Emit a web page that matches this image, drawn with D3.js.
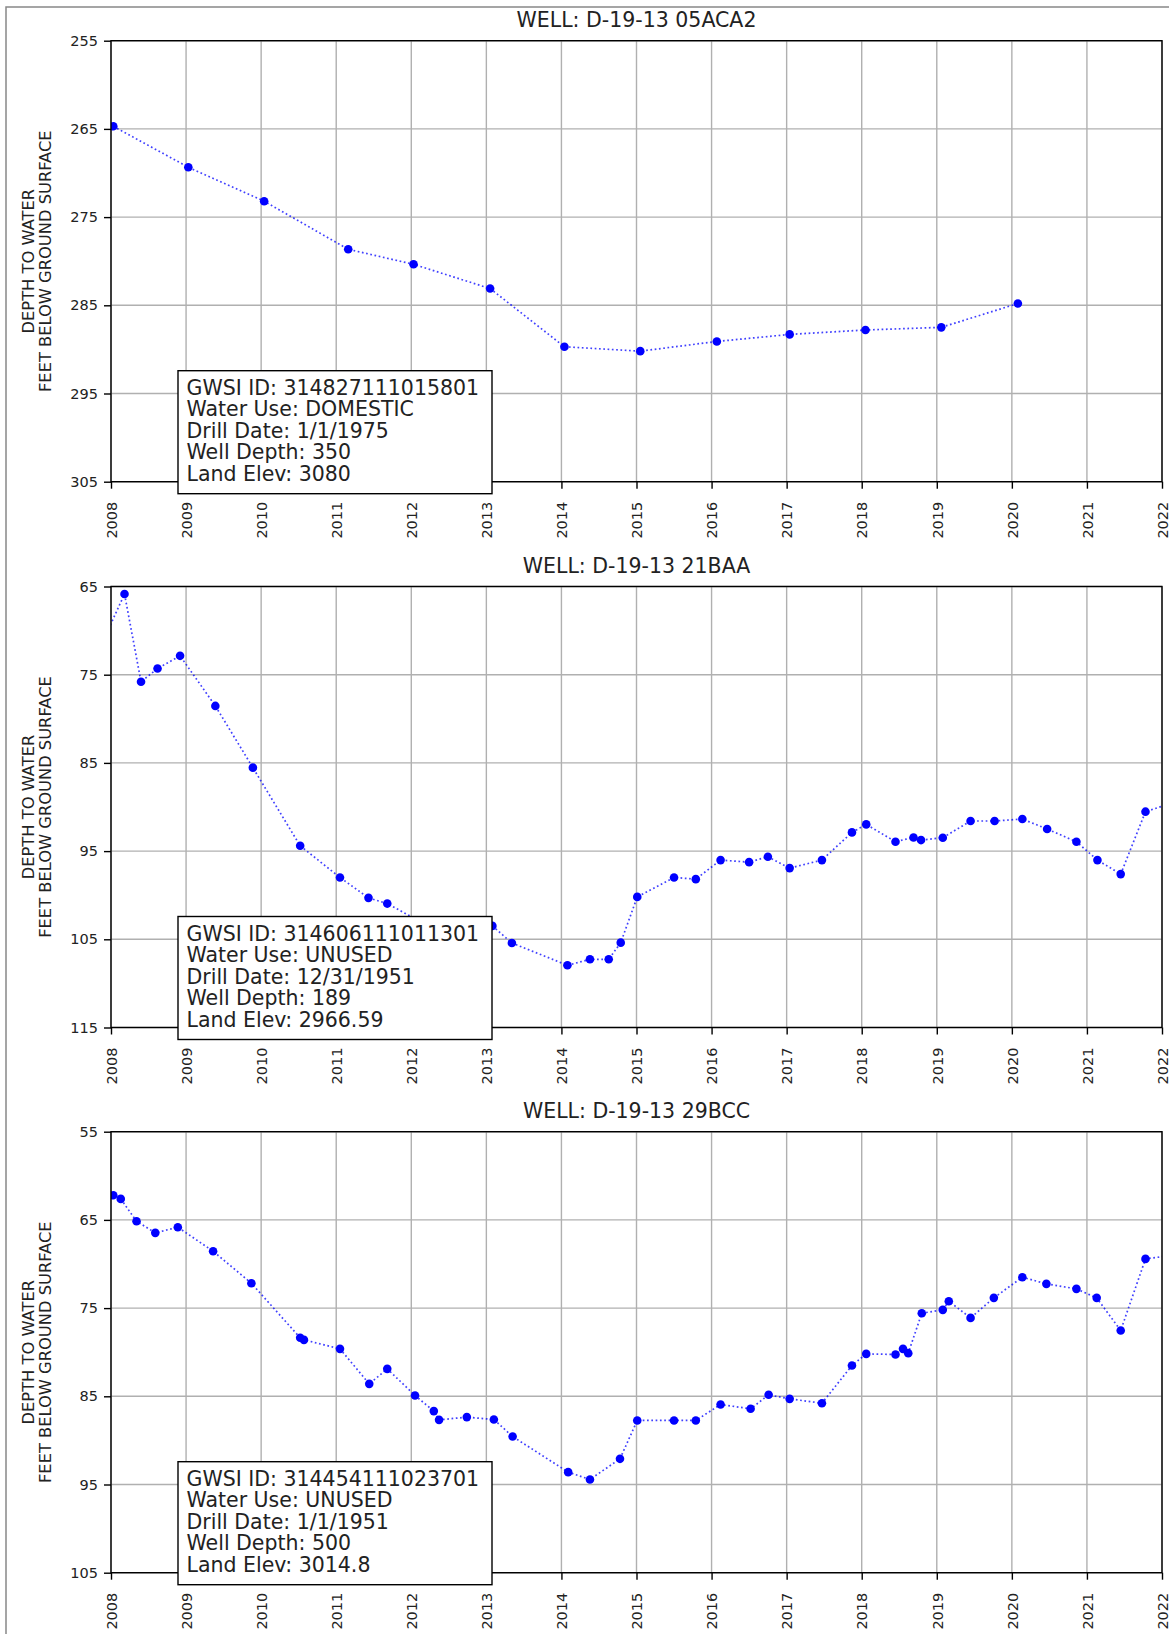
<!DOCTYPE html>
<html><head><meta charset="utf-8">
<script src="https://cdn.jsdelivr.net/npm/d3@7"></script>
<style>
body{margin:0;background:#fff;}
text{font-family:"DejaVu Sans",sans-serif;}
</style>
</head><body>
<svg id="chart" width="1169" height="1634"></svg>
<script>
// ---------- data ----------
const titles = ["WELL: D-19-13 05ACA2", "WELL: D-19-13 21BAA", "WELL: D-19-13 29BCC"];
const yearTicks = [2008,2009,2010,2011,2012,2013,2014,2015,2016,2017,2018,2019,2020,2021,2022];

const yTicks1 = [255,265,275,285,295,305];
const yTicks2 = [65,75,85,95,105,115];
const yTicks3 = [55,65,75,85,95,105];

const years1 = [2008.03,2009.03,2010.04,2011.16,2012.03,2013.05,2014.04,2015.05,2016.07,2017.04,2018.05,2019.06,2020.08];
const depth1 = [264.7,269.35,273.2,278.65,280.35,283.1,289.7,290.2,289.1,288.3,287.8,287.5,284.8];

const years2 = [2007.92,2008.18,2008.40,2008.62,2008.92,2009.39,2009.89,2010.52,2011.05,2011.43,2011.68,2012.1,2012.6,2013.08,2013.34,2014.08,2014.38,2014.63,2014.79,2015.01,2015.50,2015.79,2016.12,2016.50,2016.75,2017.04,2017.47,2017.87,2018.06,2018.45,2018.69,2018.79,2019.08,2019.45,2019.77,2020.14,2020.47,2020.86,2021.14,2021.45,2021.78,2022.15];
const depth2 = [70.7,65.85,75.8,74.3,72.86,78.54,85.54,94.4,97.99,100.3,100.95,102.9,103.2,103.48,105.42,107.95,107.27,107.27,105.38,100.19,97.99,98.18,96.02,96.25,95.64,96.93,96.02,92.88,91.97,93.94,93.45,93.75,93.48,91.59,91.59,91.36,92.5,93.94,96.02,97.61,90.53,89.5];

const years3 = [2008.03,2008.13,2008.34,2008.59,2008.89,2009.36,2009.87,2010.52,2010.57,2011.05,2011.44,2011.68,2012.05,2012.30,2012.37,2012.74,2013.10,2013.35,2014.09,2014.38,2014.78,2015.01,2015.50,2015.79,2016.12,2016.52,2016.76,2017.04,2017.47,2017.87,2018.06,2018.45,2018.55,2018.62,2018.80,2019.08,2019.16,2019.45,2019.76,2020.14,2020.46,2020.86,2021.13,2021.45,2021.78,2022.15];
const depth3 = [62.2,62.62,65.15,66.47,65.83,68.55,72.18,78.37,78.6,79.62,83.59,81.89,84.91,86.68,87.67,87.36,87.63,89.56,93.6,94.43,92.09,87.74,87.74,87.74,85.93,86.42,84.83,85.29,85.78,81.51,80.19,80.26,79.62,80.11,75.58,75.2,74.22,76.11,73.84,71.5,72.25,72.82,73.84,77.54,69.42,69.0];

const info1 = ["GWSI ID: 314827111015801","Water Use: DOMESTIC","Drill Date: 1/1/1975","Well Depth: 350","Land Elev: 3080"];
const info2 = ["GWSI ID: 314606111011301","Water Use: UNUSED","Drill Date: 12/31/1951","Well Depth: 189","Land Elev: 2966.59"];
const info3 = ["GWSI ID: 314454111023701","Water Use: UNUSED","Drill Date: 1/1/1951","Well Depth: 500","Land Elev: 3014.8"];

const yLabelLines = ["DEPTH TO WATER", "FEET BELOW GROUND SURFACE"];

// ---------- layout ----------
const svg = d3.select("#chart");
const L = 111, R = 1162, H = 441;
const tops = [40.7, 586.5, 1131.7];

svg.append("rect").attr("x",6).attr("y",7).attr("width",1300).attr("height",1800)
  .attr("fill","none").attr("stroke","#888").attr("stroke-width",1.5);

const panels = [
  {title:titles[0], yt:yTicks1, xs:years1, ys:depth1, info:info1},
  {title:titles[1], yt:yTicks2, xs:years2, ys:depth2, info:info2},
  {title:titles[2], yt:yTicks3, xs:years3, ys:depth3, info:info3}
];

panels.forEach((p, i) => {
  const top = tops[i], bot = top + H;
  const x = d3.scaleLinear().domain([yearTicks[0], yearTicks[yearTicks.length-1]]).range([L, R]);
  const y = d3.scaleLinear().domain([p.yt[0], p.yt[p.yt.length-1]]).range([top, bot]);
  const g = svg.append("g");

  // grid
  g.append("g").selectAll("line").data(yearTicks).join("line")
    .attr("x1", d=>x(d)).attr("x2", d=>x(d)).attr("y1", top).attr("y2", bot)
    .attr("stroke","#b0b0b0").attr("stroke-width",1.4);
  g.append("g").selectAll("line").data(p.yt).join("line")
    .attr("x1", L).attr("x2", R).attr("y1", d=>y(d)).attr("y2", d=>y(d))
    .attr("stroke","#b0b0b0").attr("stroke-width",1.4);

  // clip
  const cid = "clip"+i;
  svg.append("clipPath").attr("id",cid).append("rect")
    .attr("x",L).attr("y",top).attr("width",R-L).attr("height",H);

  const pts = p.xs.map((d,k)=>[d, p.ys[k]]);
  const dg = g.append("g").attr("clip-path","url(#"+cid+")");
  dg.append("path").datum(pts)
    .attr("d", d3.line().x(d=>x(d[0])).y(d=>y(d[1])))
    .attr("fill","none").attr("stroke","#0000ff").attr("stroke-width",1.7)
    .attr("stroke-dasharray","1.7,2.6").attr("opacity",0.75);
  dg.selectAll("circle").data(pts).join("circle")
    .attr("cx", d=>x(d[0])).attr("cy", d=>y(d[1])).attr("r",4.3).attr("fill","#0000ff");

  // spines
  g.append("rect").attr("x",L).attr("y",top).attr("width",R-L).attr("height",H)
    .attr("fill","none").attr("stroke","#000").attr("stroke-width",1.4);

  // y axis
  const ya = g.append("g").attr("transform",`translate(${L},0)`)
    .call(d3.axisLeft(y).tickValues(p.yt).tickSize(7).tickPadding(6).tickFormat(d3.format("d")));
  ya.select(".domain").remove();
  ya.selectAll(".tick line").attr("stroke","#000").attr("stroke-width",1.4);
  ya.selectAll(".tick text").attr("font-size",14.5).attr("fill","#222")
    .attr("font-family","DejaVu Sans");

  // x axis
  const xa = g.append("g").attr("transform",`translate(0,${bot})`)
    .call(d3.axisBottom(x).tickValues(yearTicks).tickSize(7).tickFormat(d3.format("d")));
  xa.select(".domain").remove();
  xa.selectAll(".tick line").attr("stroke","#000").attr("stroke-width",1.4);
  xa.selectAll(".tick text").attr("font-size",14.5).attr("fill","#222")
    .attr("font-family","DejaVu Sans")
    .attr("transform","rotate(-90)").attr("x",-20).attr("y",0).attr("dy","0.36em")
    .attr("text-anchor","end");

  // title
  g.append("text").attr("x",(L+R)/2).attr("y",top-13.5).attr("text-anchor","middle")
    .attr("font-size",20.5).attr("fill","#222").text(p.title);

  // y label
  const yl = g.append("text").attr("transform",`translate(0,${(top+bot)/2}) rotate(-90)`)
    .attr("text-anchor","middle").attr("font-size",16.3).attr("fill","#222");
  yl.selectAll("tspan").data(yLabelLines).join("tspan")
    .attr("x",0).attr("y",(d,k)=> 33.5 + k*17.5).text(d=>d);

  // info box
  const bx = 178, by = top + 330, bw = 314, bh = 123;
  g.append("rect").attr("x",bx).attr("y",by).attr("width",bw).attr("height",bh)
    .attr("fill","#fff").attr("stroke","#000").attr("stroke-width",1.4);
  g.append("g").selectAll("text").data(p.info).join("text")
    .attr("x", bx + 8.5).attr("y",(d,k)=> top + 354 + k*21.5)
    .attr("font-size",20.5).attr("fill","#222").text(d=>d);
});
</script>
</body></html>
